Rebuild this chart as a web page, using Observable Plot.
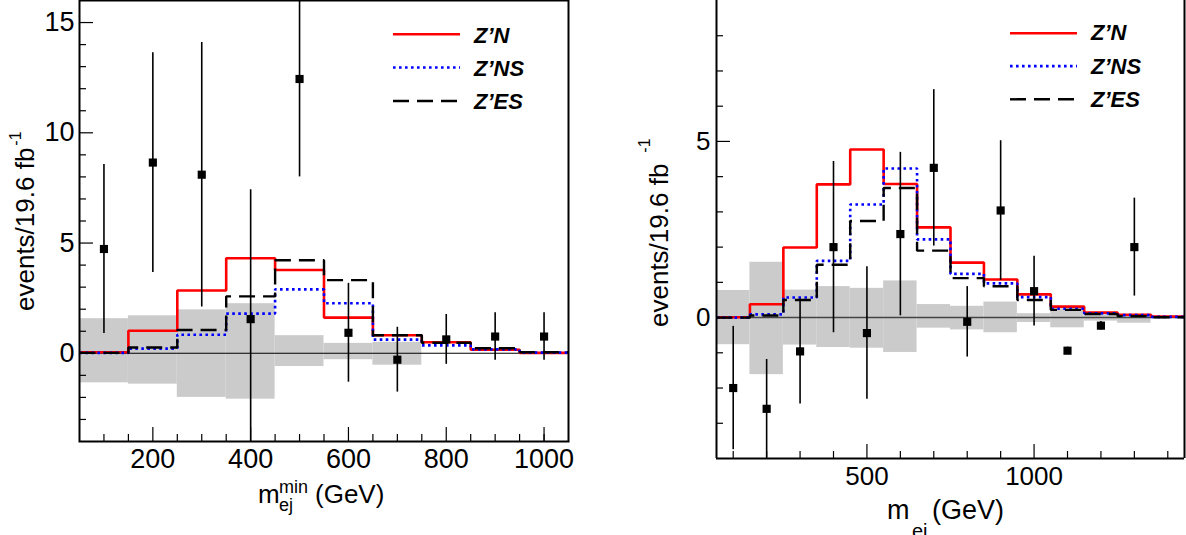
<!DOCTYPE html>
<html>
<head>
<meta charset="utf-8">
<script src="https://cdn.jsdelivr.net/npm/d3@7"></script>
<script src="https://cdn.jsdelivr.net/npm/@observablehq/plot@0.6"></script>
<style>
  html, body { margin: 0; padding: 0; background: #fff; }
  #wrap { display: flex; width: 1186px; height: 535px; overflow: hidden; font-family: "Liberation Sans", Arial, Helvetica, sans-serif; }
  #wrap svg { display: block; }
</style>
</head>
<body>
<div id="wrap"></div>
<script>
// ---------------- LEFT PANEL DATA (m_ej^min) ----------------
const binEdgesL = [50, 150, 250, 350, 450, 550, 650, 750, 850, 950, 1050];
const znL  = [0.05, 1.02, 2.85, 4.31, 3.78, 1.62, 0.82, 0.50, 0.16, 0.02];
const znsL = [0.02, 0.21, 0.84, 1.80, 2.90, 2.27, 0.62, 0.36, 0.18, 0.03];
const zesL = [0.02, 0.26, 1.06, 2.58, 4.22, 3.32, 0.82, 0.48, 0.23, 0.05];
const bandHiL = [1.57, 1.70, 1.97, 2.25, 0.80, 0.45, 0.50, 0, 0, 0];
const bandLoL = [-1.34, -1.40, -2.00, -2.08, -0.60, -0.29, -0.54, 0, 0, 0];
const dataXL   = [100, 200, 300, 400, 500, 600, 700, 800, 900, 1000];
const dataYL   = [4.73, 8.65, 8.10, 1.55, 12.44, 0.93, -0.29, 0.63, 0.76, 0.76];
const dataErrL = [3.83, 4.98, 6.00, 5.87, 4.44, 2.24, 1.47, 1.13, 1.08, 1.08];
const xMajorL = [200, 400, 600, 800, 1000];
const xMinorL = [100, 150, 250, 300, 350, 450, 500, 550, 650, 700, 750, 850, 900, 950, 1000];
const yMajorL = [0, 5, 10, 15];
const yMinorL = [-3, -2, -1, 1, 2, 3, 4, 6, 7, 8, 9, 11, 12, 13, 14];

// ---------------- RIGHT PANEL DATA (m_ej) ----------------
const binEdgesR = [50, 150, 250, 350, 450, 550, 650, 750, 850, 950, 1050, 1150, 1250, 1350, 1450];
const znR  = [0.01, 0.38, 1.99, 3.78, 4.77, 3.79, 2.56, 1.56, 1.08, 0.66, 0.31, 0.14, 0.08, 0.03];
const znsR = [0.00, 0.09, 0.57, 1.61, 3.21, 4.23, 2.22, 1.24, 0.97, 0.58, 0.25, 0.12, 0.07, 0.02];
const zesR = [0.00, 0.06, 0.50, 1.50, 2.74, 3.68, 1.90, 1.12, 0.89, 0.50, 0.22, 0.10, 0.04, 0.01];
const bandHiR = [0.77, 1.57, 0.78, 0.88, 0.83, 1.04, 0.37, 0.32, 0.44, 0.11, 0.25, 0.08, 0.06, 0];
const bandLoR = [-0.77, -1.62, -0.78, -0.85, -0.87, -0.99, -0.30, -0.35, -0.43, -0.14, -0.29, -0.10, -0.16, 0];
const dataXR   = [100, 200, 300, 400, 500, 600, 700, 800, 900, 1000, 1100, 1200, 1300];
const dataYR   = [-2.00, -2.59, -0.96, 2.00, -0.44, 2.37, 4.25, -0.12, 3.04, 0.75, -0.94, -0.23, 2.00];
const dataErrR = [1.75, 1.40, 1.49, 2.43, 1.88, 2.32, 2.22, 1.00, 1.98, 0.99, 0.10, 0.12, 1.39];
const xMajorR = [500, 1000];
const xMinorR = [100, 200, 300, 400, 600, 700, 800, 900, 1100, 1200, 1300, 1400];
const yMajorR = [0, 5];
const yMinorR = [-3, -2, -1, 1, 2, 3, 4, 6, 7, 8];

const seriesNames = ["Z\u2019N", "Z\u2019NS", "Z\u2019ES"];
const seriesStyle = [
  { stroke: "#ff0000", strokeWidth: 2.6, dash: null },
  { stroke: "#0000ff", strokeWidth: 2.6, dash: "2.6,3.4" },
  { stroke: "#000000", strokeWidth: 2.4, dash: "16,8" }
];

const plainNum = d => String(d);

function panel(cfg) {
  const bins = cfg.bandHi.map((h, i) => ({ x1: cfg.edges[i], x2: cfg.edges[i + 1], y1: cfg.bandLo[i], y2: h }))
    .filter(d => d.y2 !== d.y1);
  const step = vals => cfg.edges.map((e, i) => ({ x: e, y: vals[Math.min(i, vals.length - 1)] }));
  const pts = cfg.dataX.map((x, i) => ({ x, y: cfg.dataY[i], lo: cfg.dataY[i] - cfg.dataErr[i], hi: cfg.dataY[i] + cfg.dataErr[i] }));
  const lines = cfg.series.map((vals, k) => Plot.line(step(vals), {
    x: "x", y: "y", curve: "step-after",
    stroke: seriesStyle[k].stroke, strokeWidth: seriesStyle[k].strokeWidth,
    strokeDasharray: seriesStyle[k].dash, strokeLinejoin: "miter", strokeLinecap: "butt", clip: true
  }));
  const frameMarks = cfg.fullFrame
    ? [Plot.frame({ stroke: "black", strokeWidth: 2 })]
    : [
        Plot.ruleX([cfg.xDomain[0], cfg.xDomain[1]], { stroke: "black", strokeWidth: 2 }),
        Plot.ruleY([cfg.yDomain[0]], { stroke: "black", strokeWidth: 2 })
      ];
  return Plot.plot({
    width: cfg.width, height: 535,
    marginLeft: cfg.ml, marginRight: cfg.mr, marginTop: 0, marginBottom: cfg.mb,
    x: { domain: cfg.xDomain },
    y: { domain: cfg.yDomain },
    style: { fontFamily: "'Liberation Sans', Arial, Helvetica, sans-serif", color: "black", background: "white", overflow: "visible" },
    marks: [
      Plot.rect(bins, { x1: "x1", x2: "x2", y1: "y1", y2: "y2", fill: "#cbcbcb", inset: 0, clip: true }),
      Plot.ruleY([0], { stroke: cfg.zeroColor, strokeWidth: cfg.zeroWidth }),
      ...lines,
      Plot.ruleX(pts, { x: "x", y1: "lo", y2: "hi", stroke: "black", strokeWidth: 1.6, clip: true }),
      Plot.dot(pts, { x: "x", y: "y", symbol: "square", r: 4.6, fill: "black", stroke: "none", clip: true }),
      Plot.axisY(cfg.yMinor, { tickSize: -7, tickFormat: () => "", label: null, strokeWidth: 1.2 }),
      Plot.axisY(cfg.yMajor, { tickSize: -14, tickFormat: () => "", label: null, strokeWidth: 1.2 }),
      Plot.axisY(cfg.yMajor, { tickSize: 0, tickPadding: cfg.yPad, fontSize: cfg.tickFont, tickFormat: plainNum, label: null }),
      Plot.axisX(cfg.xMinor, { tickSize: -7, tickFormat: () => "", label: null, strokeWidth: 1.2 }),
      Plot.axisX(cfg.xMajor, { tickSize: -14, tickFormat: () => "", label: null, strokeWidth: 1.2 }),
      Plot.axisX(cfg.xMajor, { tickSize: 0, tickPadding: cfg.xPad, fontSize: cfg.tickFont, tickFormat: plainNum, label: null }),
      ...frameMarks
    ]
  });
}

function addLegend(svg, lx1, lx2, tx, lineYs, textYs) {
  const g = d3.select(svg).append("g").attr("text-anchor", "start");
  seriesNames.forEach((name, k) => {
    const s = seriesStyle[k];
    g.append("line").attr("x1", lx1).attr("x2", lx2).attr("y1", lineYs[k]).attr("y2", lineYs[k])
      .attr("stroke", s.stroke).attr("stroke-width", s.strokeWidth)
      .attr("stroke-dasharray", s.dash);
    g.append("text").attr("x", tx).attr("y", textYs[k]).attr("font-size", 22).attr("text-anchor", "start")
      .attr("font-weight", "bold").attr("font-style", "italic").attr("fill", "black").text(name);
  });
}

const wrap = document.getElementById("wrap");

// Left panel
const svgL = panel({
  width: 593, ml: 79, mr: 25, mb: 94, fullFrame: true,
  xDomain: [50, 1050], yDomain: [-4, 16],
  edges: binEdgesL, series: [znL, znsL, zesL],
  bandHi: bandHiL, bandLo: bandLoL,
  dataX: dataXL, dataY: dataYL, dataErr: dataErrL,
  xMajor: xMajorL, xMinor: xMinorL, yMajor: yMajorL, yMinor: yMinorL,
  zeroColor: "black", zeroWidth: 1.1, tickFont: 27, yPad: 5, xPad: 7
});
wrap.appendChild(svgL);
{
  const s = d3.select(svgL);
  const t = s.append("text").attr("transform", "translate(34,311) rotate(-90)")
    .attr("text-anchor", "start").attr("font-size", 26).attr("fill", "black");
  t.append("tspan").text("events/19.6 fb");
  t.append("tspan").attr("font-size", 16).attr("dx", 2).attr("dy", -13).text("-1");
  const xt = s.append("text").attr("fill", "black").attr("font-size", 26).attr("text-anchor", "start");
  xt.append("tspan").attr("x", 258).attr("y", 503).text("m");
  xt.append("tspan").attr("x", 279).attr("y", 493).attr("font-size", 18).text("min");
  xt.append("tspan").attr("x", 279).attr("y", 511).attr("font-size", 18).text("ej");
  xt.append("tspan").attr("x", 315).attr("y", 503).text("(GeV)");
  addLegend(svgL, 393, 460, 474, [34.2, 67.5, 101], [43, 76, 109]);
}

// Right panel
const svgR = panel({
  width: 593, ml: 123, mr: 2, mb: 77, fullFrame: false,
  xDomain: [50, 1450], yDomain: [-4, 9],
  edges: binEdgesR, series: [znR, znsR, zesR],
  bandHi: bandHiR, bandLo: bandLoR,
  dataX: dataXR, dataY: dataYR, dataErr: dataErrR,
  xMajor: xMajorR, xMinor: xMinorR, yMajor: yMajorR, yMinor: yMinorR,
  zeroColor: "#444", zeroWidth: 1.5, tickFont: 26, yPad: 6, xPad: 8
});
wrap.appendChild(svgR);
{
  const s = d3.select(svgR);
  const t = s.append("text").attr("transform", "translate(75,327) rotate(-90)")
    .attr("text-anchor", "start").attr("font-size", 26).attr("fill", "black");
  t.append("tspan").text("events/19.6 fb");
  t.append("tspan").attr("font-size", 16).attr("dx", 11).attr("dy", -18).text("-1");
  const xt = s.append("text").attr("fill", "black").attr("font-size", 27).attr("text-anchor", "start");
  xt.append("tspan").attr("x", 294).attr("y", 519).text("m");
  xt.append("tspan").attr("x", 319).attr("y", 538).attr("font-size", 20).text("ej");
  xt.append("tspan").attr("x", 339).attr("y", 519).text("(GeV)");
  addLegend(svgR, 417, 484, 498, [33.2, 66.1, 99.3], [40.4, 73.6, 106.8]);
}
</script>
</body>
</html>
